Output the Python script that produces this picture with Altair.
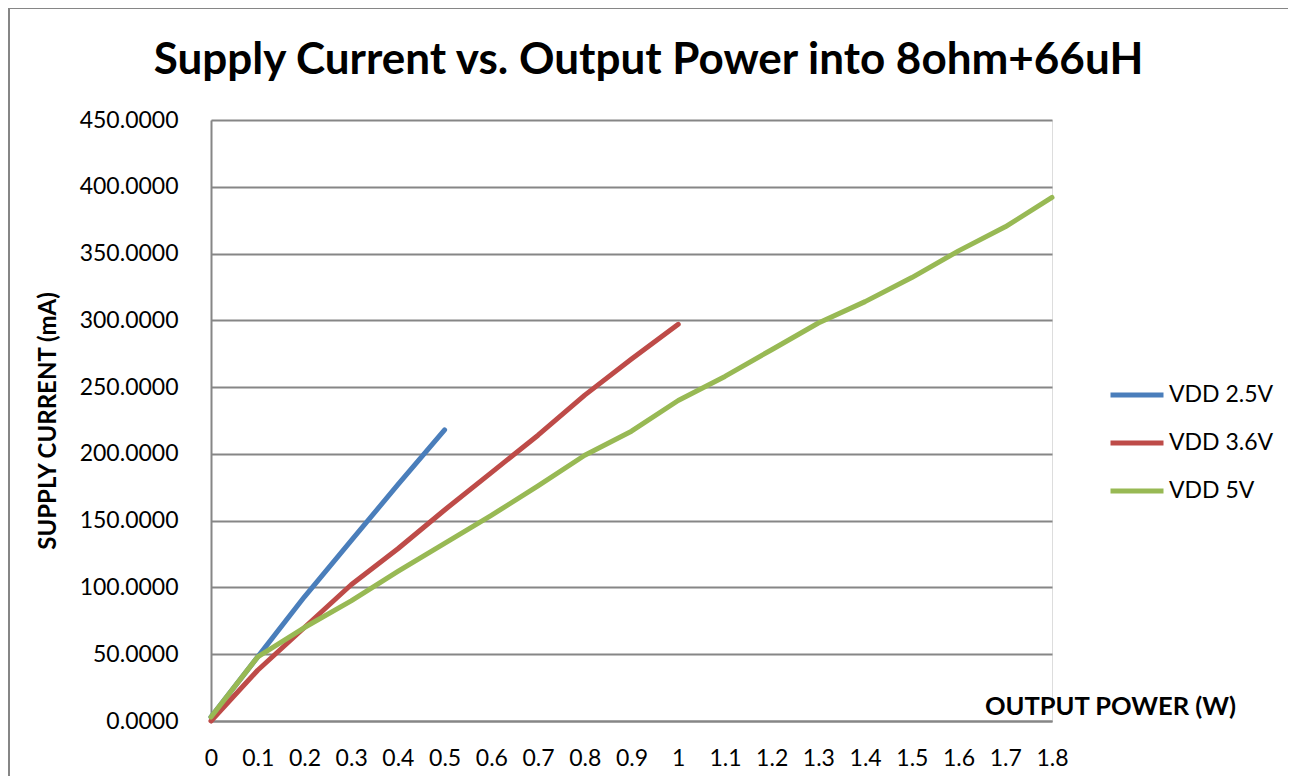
import altair as alt
import pandas as pd

# x positions (output power, W)
power = [0.0, 0.1, 0.2, 0.3, 0.4, 0.5, 0.6, 0.7, 0.8, 0.9, 1.0,
         1.1, 1.2, 1.3, 1.4, 1.5, 1.6, 1.7, 1.8]

# supply current (mA) per series
vdd_25 = [3, 48, 93, 135, 177, 218]
vdd_36 = [0, 38, 70, 102, 129, 158, 186, 214, 244, 271, 297]
vdd_50 = [3, 48, 70, 90, 112, 133, 154, 176, 199, 217, 240,
          258, 278, 298, 314, 332, 352, 370, 392]

series_names = ["VDD 2.5V", "VDD 3.6V", "VDD 5V"]
series_vals = [vdd_25, vdd_36, vdd_50]
colors = ["#4A7EBB", "#BE4B48", "#98B954"]

y_ticks = [0, 50, 100, 150, 200, 250, 300, 350, 400, 450]

rows = []
for name, vals in zip(series_names, series_vals):
    for i, v in enumerate(vals):
        rows.append({"power": power[i], "current": v, "series": name})
df = pd.DataFrame(rows)

FONT = "Lato"
GRAY = "#868686"

lines = alt.Chart(df).mark_line(strokeWidth=5, strokeCap="round", strokeJoin="round").encode(
    x=alt.X("power:Q",
            scale=alt.Scale(domain=[0, 1.8], nice=False, zero=False),
            axis=alt.Axis(values=power, format="~g", grid=False, ticks=False, tickSize=0,
                          labelPadding=26, labelFontSize=23, labelFont=FONT, labelColor="#000000",
                          labelFlush=False,
                          domainColor=GRAY, domainWidth=2,
                          title="OUTPUT POWER (W)", titleFont=FONT, titleFontSize=25.5,
                          titleFontWeight="bold", titleColor="#000000",
                          titleX=899, titleY=-15, titleAlign="center", titleBaseline="middle")),
    y=alt.Y("current:Q",
            scale=alt.Scale(domain=[0, 450], nice=False),
            axis=alt.Axis(values=y_ticks, format=".4f", grid=True, gridColor=GRAY, gridWidth=2,
                          ticks=False, tickSize=0, labelPadding=33, labelFontSize=23,
                          labelFont=FONT, labelColor="#000000",
                          domainColor=GRAY, domainWidth=2,
                          title="SUPPLY CURRENT (mA)", titleFont=FONT, titleFontSize=24,
                          titleFontWeight="bold", titleColor="#000000",
                          titleX=-163, titleY=300.5, titleAngle=-90,
                          titleAlign="center", titleBaseline="middle")),
    color=alt.Color("series:N",
                    scale=alt.Scale(domain=series_names, range=colors),
                    legend=alt.Legend(title=None, orient="none", legendX=897, legendY=246,
                                      symbolType="stroke", symbolSize=2809, symbolStrokeWidth=5,
                                      labelFont=FONT, labelFontSize=23, labelColor="#000000",
                                      labelOffset=3, rowPadding=7, padding=0)),
    order=alt.Order("power:Q"),
)

frame_df = pd.DataFrame({"a": [0]})
frame_left = alt.Chart(frame_df).mark_rule(stroke=GRAY, strokeWidth=2).encode(
    x=alt.value(-202), y=alt.value(-112), y2=alt.value(700)
)
frame_top = alt.Chart(frame_df).mark_rule(stroke=GRAY, strokeWidth=2).encode(
    x=alt.value(-202), x2=alt.value(1077), y=alt.value(-112)
)

chart = alt.layer(frame_left, frame_top, lines).properties(
    width=841, height=601,
    title=alt.TitleParams("Supply Current vs. Output Power into 8ohm+66uH",
                          font=FONT, fontSize=44, fontWeight="bold", color="#000000",
                          anchor="middle", dx=17, offset=0, dy=111, baseline="alphabetic"),
    autosize=alt.AutoSizeParams(type="none"),
    padding={"left": 203, "top": 112, "right": 236, "bottom": 55},
).configure_view(stroke=None).configure(background="#ffffff")

chart.save("out.html", embed_options={"renderer": "svg", "actions": False})
